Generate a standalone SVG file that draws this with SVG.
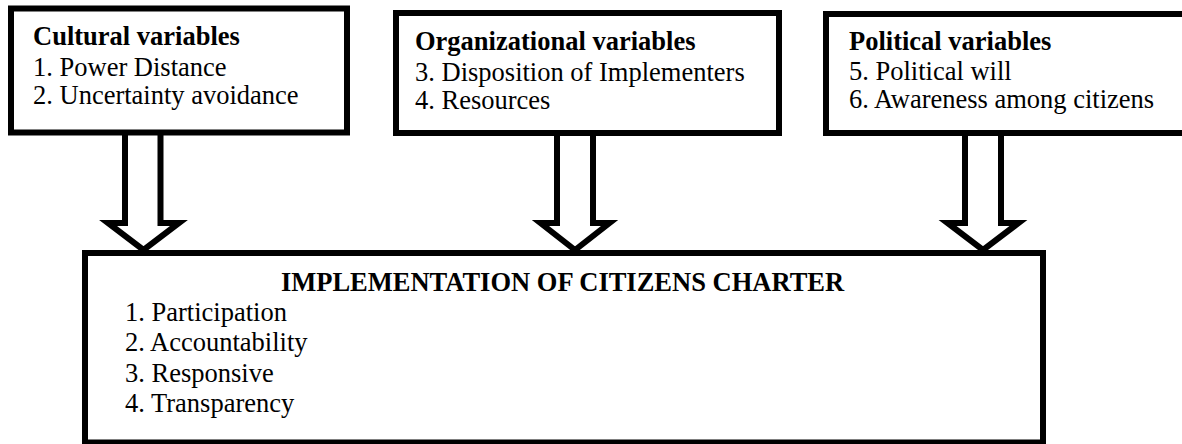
<svg xmlns="http://www.w3.org/2000/svg" width="1182" height="444" viewBox="0 0 1182 444">
<style>
.box{fill:#fff;stroke:#000;stroke-width:6}
.arrow{fill:#fff;stroke:#000;stroke-width:6;stroke-linejoin:miter}
text{font-family:"Liberation Serif","Times New Roman",serif;font-size:26.5px;fill:#000}
.b{font-weight:bold}
</style>
<rect width="1182" height="444" fill="#fff"/>
<g id="connectors">
<polygon class="arrow" points="125,128 125,223 108,223 143.5,250 179,223 160.5,223 160.5,128"/>
<polygon class="arrow" points="557,128 557,223 540.5,223 575,250 609.5,223 593,223 593,128"/>
<polygon class="arrow" points="965,128 965,223 947.5,223 983,250 1018.5,223 1001,223 1001,128"/>
</g>
<g id="cultural">
<rect class="box" x="11" y="8.5" width="336" height="124"/>
<text x="33" y="45" class="b">Cultural variables</text>
<text x="33" y="76">1. Power Distance</text>
<text x="33" y="104">2. Uncertainty avoidance</text>
</g>
<g id="organizational">
<rect class="box" x="396" y="13" width="383" height="120"/>
<text x="415" y="50" class="b">Organizational variables</text>
<text x="415" y="81">3. Disposition of Implementers</text>
<text x="415" y="109">4. Resources</text>
</g>
<g id="political">
<rect class="box" x="826" y="14" width="400" height="119"/>
<text x="849" y="50" class="b">Political variables</text>
<text x="849" y="80">5. Political will</text>
<text x="849" y="108">6. Awareness among citizens</text>
</g>
<g id="implementation">
<path d="M85,443 L85,253 L1043,253 L1043,443" fill="none" stroke="#000" stroke-width="6"/>
<line x1="82" y1="442.5" x2="1046" y2="442.5" stroke="#000" stroke-width="6"/>
<text x="562.5" y="291" class="b" text-anchor="middle">IMPLEMENTATION OF CITIZENS CHARTER</text>
<text x="125" y="321">1. Participation</text>
<text x="125" y="351">2. Accountability</text>
<text x="125" y="382">3. Responsive</text>
<text x="125" y="412">4. Transparency</text>
</g>
</svg>
